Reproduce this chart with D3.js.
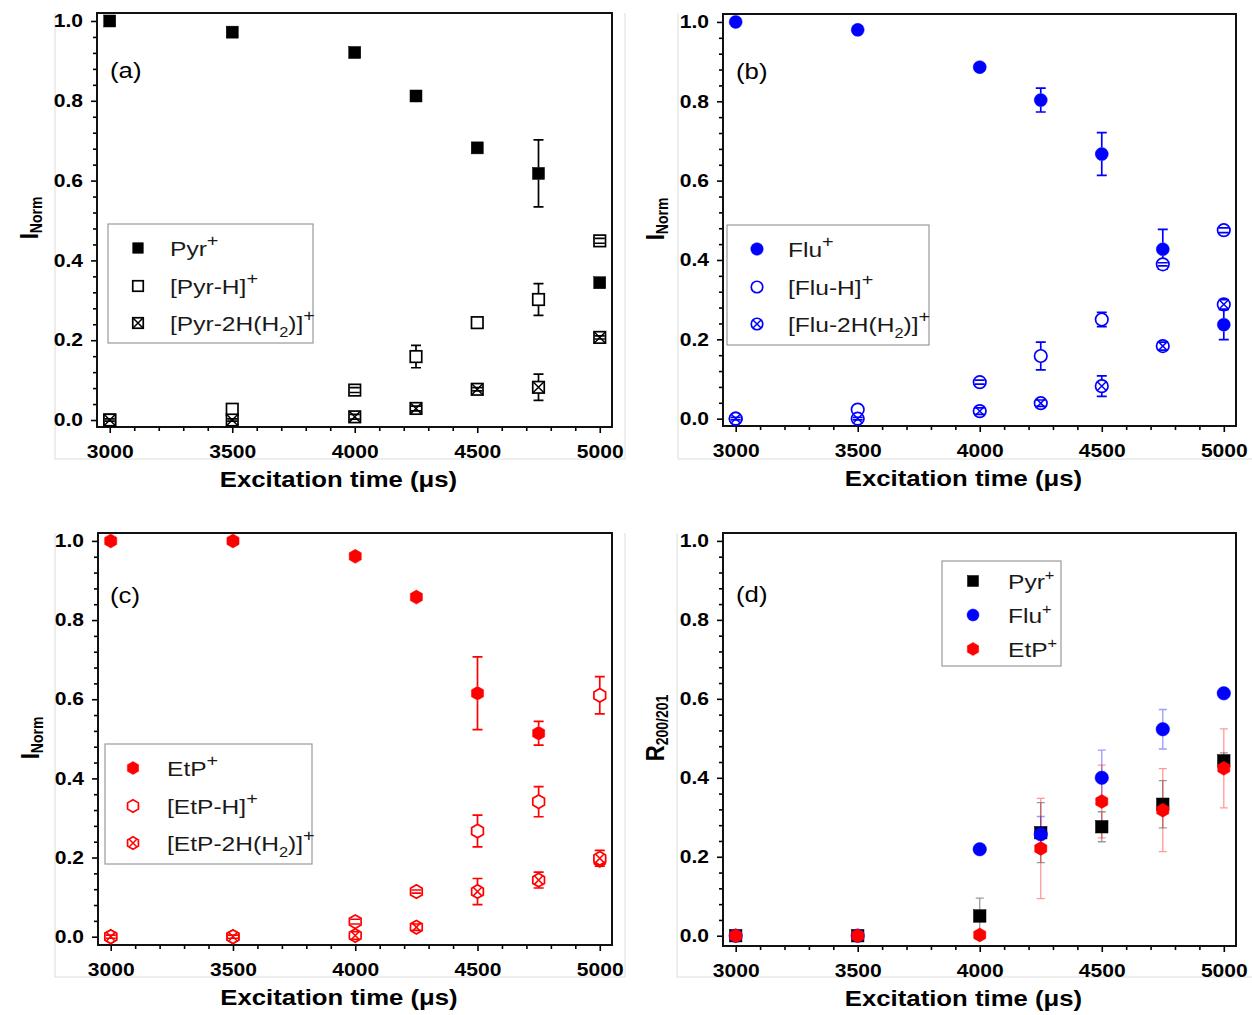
<!DOCTYPE html>
<html><head><meta charset="utf-8">
<script src="https://cdn.jsdelivr.net/npm/d3@7"></script>
<style>
body{margin:0;background:#fff;}
svg{display:block;font-family:"Liberation Sans",Arial,sans-serif;}
</style></head><body>
<svg id="chart" width="1252" height="1015"></svg>
<script>
// ---------------- data ----------------
const times = [3000,3500,4000,4250,4500,4750,5000];
const xTickValues = [3000,3500,4000,4500,5000];
const xMinorTicks = [3100,3200,3300,3400,3600,3700,3800,3900,4100,4200,4300,4400,4600,4700,4800,4900];
const yTickValues = [0,0.2,0.4,0.6,0.8,1.0];
const yMinorTicks = [0.04,0.08,0.12,0.16,0.24,0.28,0.32,0.36,0.44,0.48,0.52,0.56,0.64,0.68,0.72,0.76,0.84,0.88,0.92,0.96];

// (a) pyrene
const pyrIon    = [1.000,0.972,0.921,0.812,0.682,0.618,0.344];
const pyrIonErr = [0.003,0.004,0.004,0.006,0.010,0.084,0.008];
const pyrH      = [0.000,0.027,0.075,0.159,0.244,0.302,0.449];
const pyrHErr   = [0,0,0.006,0.028,0,0.040,0.006];
const pyr2H     = [0.000,0.000,0.008,0.029,0.077,0.082,0.207];
const pyr2HErr  = [0.003,0.003,0.006,0.006,0.004,0.033,0.004];
// (b) fluoranthene
const fluIon    = [1.000,0.980,0.886,0.803,0.667,0.427,0.237];
const fluIonErr = [0.004,0.004,0.008,0.030,0.054,0.050,0.038];
const fluH      = [0.000,0.023,0.092,0.158,0.250,0.389,0.475];
const fluHErr   = [0,0,0.005,0.035,0.018,0.004,0.006];
const flu2H     = [0.000,0.000,0.019,0.039,0.082,0.183,0.288];
const flu2HErr  = [0.003,0.003,0.008,0.008,0.026,0.010,0.012];
// (c) ethylpyrene
const etpIon    = [1.000,1.000,0.961,0.858,0.615,0.514,0.192];
const etpIonErr = [0.004,0.008,0.004,0.004,0.092,0.030,0.010];
const etpH      = [0.000,0.000,0.038,0.114,0.267,0.341,0.610];
const etpHErr   = [0,0,0.006,0.004,0.040,0.038,0.047];
const etp2H     = [0.000,0.000,0.003,0.024,0.114,0.143,0.198];
const etp2HErr  = [0.004,0.004,0.010,0.008,0.033,0.020,0.020];
// (d) ratio R200/201
const rPyr    = [0,0,0.050,0.261,0.276,0.333,0.443];
const rPyrErr = [0,0,0.045,0.076,0.038,0.060,0.020];
const rFlu    = [0,0,0.219,0.257,0.400,0.523,0.614];
const rFluErr = [0,0,0,0.045,0.070,0.050,0];
const rEtp    = [0,0,0.002,0.221,0.340,0.318,0.424];
const rEtpErr = [0,0,0,0.127,0.092,0.105,0.100];

const labelsA = ['Pyr^+','[Pyr-H]^+','[Pyr-2H(H_2)]^+'];
const labelsB = ['Flu^+','[Flu-H]^+','[Flu-2H(H_2)]^+'];
const labelsC = ['EtP^+','[EtP-H]^+','[EtP-2H(H_2)]^+'];
const labelsD = ['Pyr^+','Flu^+','EtP^+'];
const xTitle = 'Excitation time (\u03bcs)';

// ---------------- drawing ----------------
const SX = 1.17;
const BLUE = '#0000ff', RED = '#ff0000', BLACK = '#000000';
const svg = d3.select('#chart');

function hexPath(r){
  const p = d3.path();
  for(let k=0;k<6;k++){
    const a = (-90 + 60*k) * Math.PI/180;
    const px = r*Math.cos(a), py = r*Math.sin(a);
    if(k===0) p.moveTo(px,py); else p.lineTo(px,py);
  }
  p.closePath();
  return p.toString();
}

function marker(g, shape, style, color, s){
  let el;
  const fill = style==='filled' ? color : '#fff';
  if(shape==='square'){
    el = g.append('rect').attr('x',-s/2).attr('y',-s/2).attr('width',s).attr('height',s);
  } else if(shape==='circle'){
    el = g.append('circle').attr('r',s/2);
  } else {
    el = g.append('path').attr('d',hexPath(s/2));
  }
  el.attr('fill',fill).attr('stroke',color).attr('stroke-width',style==='filled'?0.5:1.7);
  if(style==='crossed'){
    let c = shape==='square' ? s/2 : (shape==='circle' ? s/2*0.707 : s/2*0.6);
    g.append('path').attr('d',`M${-c},${-c}L${c},${c}M${-c},${c}L${c},${-c}`)
      .attr('stroke',color).attr('stroke-width',1.5).attr('fill','none');
  }
}

function richText(t, str, subSize, supSize, supDy){
  let buf = '', shift = 0;
  const flush = () => { if(buf){ const ts=t.append('tspan').text(buf); if(shift){ts.attr('dy',-shift); shift=0;} buf=''; } };
  for(let i=0;i<str.length;i++){
    const ch = str[i];
    if(ch==='_'){ flush(); t.append('tspan').attr('font-size',subSize).attr('dy',6).text(str[i+1]); shift = 6; i++; }
    else if(ch==='^'){ flush(); t.append('tspan').attr('font-size',supSize).attr('dy',supDy-shift).text(str[i+1]); shift=0; i++; }
    else buf += ch;
  }
  flush();
}

const panels = [
  {x0:97, y0:13, w:515, h:414, yDom:[-0.0175,1.02], tag:'(a)', tagPos:[110,78], yTitle:['I','Norm'],
   border:'M55,13V459H625V13',
   series:[
     {v:pyrIon, e:pyrIonErr, shape:'square', style:'filled', color:BLACK, size:12},
     {v:pyrH, e:pyrHErr, shape:'square', style:'open', color:BLACK, size:11.5},
     {v:pyr2H, e:pyr2HErr, shape:'square', style:'crossed', color:BLACK, size:11.5}],
   legend:{box:[108,224,313,343], mx:138, tx:170, rows:[248,286,323], labels:labelsA, msize:[10.5,10.5,10.5]}},
  {x0:723, y0:14, w:513, h:412, yDom:[-0.0185,1.02], tag:'(b)', tagPos:[736,78.5], yTitle:['I','Norm'],
   border:'M678,13V459H1252',
   series:[
     {v:fluIon, e:fluIonErr, shape:'circle', style:'filled', color:BLUE, size:13},
     {v:fluH, e:fluHErr, shape:'circle', style:'open', color:BLUE, size:12.5},
     {v:flu2H, e:flu2HErr, shape:'circle', style:'crossed', color:BLUE, size:12.5}],
   legend:{box:[727,225,929,345], mx:757, tx:788, rows:[249,287,324], labels:labelsB, msize:[12.5,11.5,11.5]}},
  {x0:98, y0:533, w:514, h:412, yDom:[-0.021,1.02], tag:'(c)', tagPos:[110,603], yTitle:['I','Norm'],
   border:'M55,533V977H625V533',
   series:[
     {v:etpIon, e:etpIonErr, shape:'hex', style:'filled', color:RED, size:14},
     {v:etpH, e:etpHErr, shape:'hex', style:'open', color:RED, size:13.5},
     {v:etp2H, e:etp2HErr, shape:'hex', style:'crossed', color:RED, size:13.5}],
   legend:{box:[105,744,312,864], mx:133, tx:167, rows:[768,806,843], labels:labelsC, msize:[13,12.5,12.5]}},
  {x0:723, y0:533, w:513, h:413, yDom:[-0.026,1.02], tag:'(d)', tagPos:[736,601.5], yTitle:['R','200/201'],
   border:'M677,533V977H1252', ratio:true,
   series:[
     {v:rPyr, e:rPyrErr, shape:'square', style:'filled', color:BLACK, size:12.5},
     {v:rFlu, e:rFluErr, shape:'circle', style:'filled', color:BLUE, size:13.5},
     {v:rEtp, e:rEtpErr, shape:'hex', style:'filled', color:RED, size:14}],
   legend:{box:[942,561,1061,666], mx:973, tx:1008, rows:[581,615,649], labels:labelsD, msize:[11,12,13], small:true}}
];

panels.forEach(P => {
  svg.append('path').attr('d',P.border).attr('fill','none').attr('stroke','#dcdcdc').attr('stroke-width',1);

  const g = svg.append('g').attr('transform',`translate(${P.x0},${P.y0})`);
  const x = d3.scaleLinear().domain([2948,5050]).range([0,P.w]);
  const y = d3.scaleLinear().domain(P.yDom).range([P.h,0]);

  const styleAxis = sel => {
    sel.select('.domain').remove();
    sel.attr('font-family',null).attr('font-size',null);
    sel.selectAll('line').attr('stroke','#000').attr('stroke-width',1.6);
    sel.selectAll('text').attr('fill','#000').attr('font-size',18).attr('font-weight','bold')
      .each(function(){ const t=d3.select(this); const xv=+(t.attr('x')||0); t.attr('x',xv/SX).attr('transform',`scale(${SX},1)`); });
  };
  g.append('g').attr('transform',`translate(0,${P.h})`)
    .call(d3.axisBottom(x).tickValues(xTickValues).tickSize(6).tickPadding(12).tickFormat(d3.format('d'))).call(styleAxis);
  g.append('g').attr('transform',`translate(0,${P.h})`)
    .call(d3.axisBottom(x).tickValues(xMinorTicks).tickSize(4).tickFormat('')).call(styleAxis);
  g.append('g')
    .call(d3.axisLeft(y).tickValues(yTickValues).tickSize(6).tickPadding(8).tickFormat(d3.format('.1f'))).call(styleAxis);
  g.append('g')
    .call(d3.axisLeft(y).tickValues(yMinorTicks).tickSize(4).tickFormat('')).call(styleAxis);

  g.append('rect').attr('x',0).attr('y',0).attr('width',P.w).attr('height',P.h)
    .attr('fill','none').attr('stroke','#111').attr('stroke-width',2);

  const capW = P.ratio ? 8 : 10;
  const drawErr = (s) => {
    const eg = g.append('g').attr('stroke',s.color).attr('stroke-width',P.ratio?1.3:1.7)
      .attr('stroke-opacity',P.ratio?0.4:1).attr('fill','none');
    times.forEach((t,i) => {
      const e = s.e[i]; if(!e) return;
      const cx = x(t), cy = y(s.v[i]);
      const yt = y(s.v[i]+e), yb = y(s.v[i]-e), half = s.size/2;
      let d = '';
      if(P.ratio){ d += `M${cx},${yt}V${yb}`; }
      else {
        if(cy-half > yt) d += `M${cx},${yt}V${cy-half}`;
        if(cy+half < yb) d += `M${cx},${cy+half}V${yb}`;
      }
      d += `M${cx-capW/2},${yt}H${cx+capW/2}M${cx-capW/2},${yb}H${cx+capW/2}`;
      eg.append('path').attr('d',d);
    });
  };
  const drawMarkers = (s) => {
    times.forEach((t,i) => {
      const mg = g.append('g').attr('transform',`translate(${x(t)},${y(s.v[i])})`);
      marker(mg, s.shape, s.style, s.color, s.size);
    });
  };
  if(P.ratio){
    P.series.forEach(drawErr);
    P.series.forEach(drawMarkers);
  } else {
    P.series.forEach(s => { drawMarkers(s); drawErr(s); });
  }

  svg.append('text').attr('transform',`translate(${P.tagPos[0]},${P.tagPos[1]}) scale(${SX},1)`)
    .attr('font-size',22).attr('fill','#000').text(P.tag);

  const L = P.legend;
  svg.append('rect').attr('x',L.box[0]).attr('y',L.box[1]).attr('width',L.box[2]-L.box[0]).attr('height',L.box[3]-L.box[1])
    .attr('fill','#fff').attr('stroke','#9a9a9a').attr('stroke-width',1.2);
  L.rows.forEach((ry,i) => {
    const s = P.series[i];
    const mg = svg.append('g').attr('transform',`translate(${L.mx},${ry})`);
    marker(mg, s.shape, s.style, s.color, L.msize[i]);
    const t = svg.append('text').attr('transform',`translate(${L.tx},${ry+7.5}) scale(${SX},1)`)
      .attr('font-size',21).attr('fill','#1a1a1a');
    if(L.small) richText(t, L.labels[i], 14, 14, -9);
    else richText(t, L.labels[i], 14, 17, -10);
  });

  svg.append('text').attr('transform',`translate(${P.x0+P.w/2-16},${P.y0+P.h+60}) scale(${SX},1)`)
    .attr('text-anchor','middle').attr('font-size',22).attr('font-weight','bold').attr('fill','#000').text(xTitle);

  const cyT = P.ratio ? P.y0+195 : P.y0+205;
  const yt = svg.append('text').attr('transform',`translate(${P.x0-59},${cyT}) rotate(-90) scale(1,${SX})`)
    .attr('text-anchor','middle').attr('font-weight','bold').attr('fill','#000');
  yt.append('tspan').attr('font-size',22).text(P.yTitle[0]);
  yt.append('tspan').attr('font-size',14).attr('dy',3).text(P.yTitle[1]);
});
</script>
</body></html>
